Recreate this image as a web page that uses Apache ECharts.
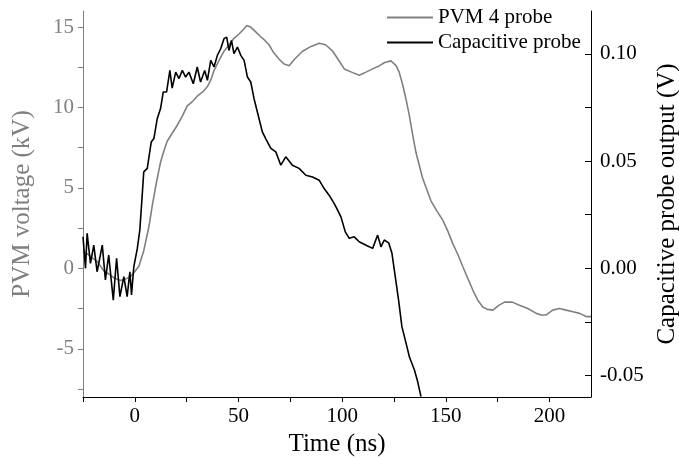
<!DOCTYPE html>
<html>
<head>
<meta charset="utf-8">
<script src="https://cdn.jsdelivr.net/npm/echarts@6/dist/echarts.min.js"></script>
<style>html,body{margin:0;padding:0;background:#fff}#c{width:679px;height:458px}</style>
</head>
<body>
<div id="c"></div>
<script>
// ---- Data ----
var pvmName = 'PVM 4 probe';
var capName = 'Capacitive probe';

// PVM 4 probe: time (ns) and voltage (kV), left axis
var pvmTime = [-25,-22,-18,-15,-12,-10,-7,-5,-2,0,2,4.3,6.8,8.4,10.5,12.4,14,15.6,18,20.5,
  23,25.3,28,30.1,33,35,36.6,38.2,40.5,43,45.5,47.8,50.5,52.7,54,55.9,58.3,60.7,62.5,64.7,
  67,69.6,72,74.4,77,80.9,85,88.9,92,95.4,98,101,104.5,108.2,111.5,114.7,118,120.5,123.5,126,
  127.5,129.2,130.8,132.4,134,135.6,138.8,142.8,145.5,148.5,151,153.3,156,158.2,160.5,163,165.5,167.8,170,172.7,
  175.5,178.3,182,185.5,189.5,193.6,196,198.4,201.5,204.8,208,211.3,214.5,217.7,220];
var pvmKV = [1.1,0.8,0.4,-0.15,-0.4,-0.6,-0.75,-0.7,-0.5,-0.2,0.15,1.1,2.6,3.9,5.4,6.6,7.3,7.9,8.4,8.9,
  9.5,10.1,10.4,10.7,11.0,11.3,11.7,12.3,12.9,13.5,13.9,14.3,14.6,14.9,15.1,15.0,14.7,14.4,14.2,13.9,
  13.4,13.0,12.7,12.6,13.0,13.5,13.8,14.0,13.9,13.5,13.0,12.4,12.2,12.0,12.2,12.4,12.6,12.8,12.9,12.6,
  12.2,11.4,10.5,9.5,8.3,7.2,5.6,4.2,3.6,3.0,2.3,1.55,0.8,0.1,-0.6,-1.35,-2.0,-2.4,-2.55,-2.6,
  -2.3,-2.1,-2.1,-2.3,-2.5,-2.8,-2.9,-2.9,-2.6,-2.5,-2.6,-2.7,-2.8,-3.0,-3.0];

// Capacitive probe: time (ns) and output (V), right axis
var capTime = [-25,-23.8,-23,-21.4,-19.8,-18.2,-15.7,-14.2,-12.6,-10.4,-8.8,-7.2,-5.3,-3.7,-2.4,-1.6,-0.5,1.2,2.4,3.2,
  4.3,6.0,7.9,9.2,10.8,12.4,13.7,15.3,16.9,18.0,19.7,21.3,22.9,24.5,26.1,28.2,30.1,31.7,33.7,35.0,
  36.6,38.2,39.8,41.4,43.0,44.3,45.4,46.6,47.8,49.5,51.1,52.7,54.3,55.9,57.5,59.1,61.5,63.1,65.6,68.0,
  70.4,72.8,76.0,79.2,82.5,85.7,88.9,91.3,93.7,96.1,97.0,99.4,101.5,103.4,105.8,108.2,111.5,114.7,117.1,118.7,
  120.3,122.4,124.0,125.6,127.2,128.8,130.8,132.4,134.8,136.4,138.0];
var capV = [0.0147,0.0,0.0163,0.0023,0.0108,-0.0016,0.0108,-0.0054,0.0062,-0.0148,0.0047,-0.0132,-0.0039,-0.0132,-0.0016,-0.0124,0.0007,0.0093,0.0178,0.029,
  0.045,0.0466,0.0589,0.0605,0.0698,0.0745,0.0822,0.0822,0.0923,0.084,0.0915,0.0885,0.0923,0.0892,0.0915,0.0861,0.0939,0.0869,0.0923,0.0877,
  0.097,0.0939,0.0993,0.1024,0.1071,0.1078,0.1016,0.1063,0.1001,0.1032,0.0993,0.097,0.0892,0.0869,0.0791,0.0729,0.0636,0.0605,0.0559,0.0543,
  0.0481,0.052,0.0481,0.0466,0.0434,0.0426,0.0411,0.0372,0.0341,0.0303,0.0287,0.024,0.017,0.014,0.0147,0.0124,0.0108,0.0093,0.0155,0.01,
  0.0132,0.0119,0.007,-0.0039,-0.0148,-0.0272,-0.0349,-0.0412,-0.0473,-0.0528,-0.0598];

// Axis ticks / labels
var xTicks = [-25,0,25,50,75,100,125,150,175,200];
var xLabels = [0,50,100,150,200];
var leftTicks = [-7.5,-5,-2.5,0,2.5,5,7.5,10,12.5,15];
var leftLabels = [-5,0,5,10,15];
var rightTicks = [-0.05,-0.025,0,0.025,0.05,0.075,0.1];
var rightLabels = [-0.05,0,0.05,0.1];

var xTitle = 'Time (ns)';
var leftTitle = 'PVM voltage (kV)';
var rightTitle = 'Capacitive probe output (V)';

// ---- Chart ----
var FONT = 'Liberation Serif';
var GRAY = '#808080';
function zip(a,b){var r=[];for(var i=0;i<a.length;i++)r.push([a[i],b[i]]);return r;}

var chart = echarts.init(document.getElementById('c'), null, {renderer:'canvas'});
chart.setOption({
  animation:false,
  backgroundColor:'#ffffff',
  textStyle:{fontFamily:FONT},
  grid:{left:83,right:88,top:11,bottom:61,containLabel:false,outerBoundsMode:'none'},
  legend:{
    orient:'vertical', left:382, top:0,
    itemWidth:46, itemHeight:2, itemGap:0, icon:'rect',
    textStyle:{fontFamily:FONT,fontSize:21,color:'#000',lineHeight:25,padding:[0,0,0,0]},
    data:[pvmName,capName]
  },
  xAxis:{
    type:'value', min:-25, max:220,
    name:xTitle, nameLocation:'middle', nameGap:29,
    nameTextStyle:{fontFamily:FONT,fontSize:25,color:'#000'},
    axisLine:{show:true,onZero:false,lineStyle:{color:'#000',width:1}},
    axisTick:{show:true,inside:false,length:5,customValues:xTicks,lineStyle:{color:'#000'}},
    axisLabel:{customValues:xLabels,fontFamily:FONT,fontSize:21,color:'#000',margin:9},
    splitLine:{show:false}
  },
  yAxis:[{
    type:'value', position:'left', min:-8, max:16,
    name:leftTitle, nameLocation:'middle', nameGap:48, nameRotate:90,
    nameTextStyle:{fontFamily:FONT,fontSize:25,color:GRAY},
    axisLine:{show:true,onZero:false,lineStyle:{color:GRAY,width:1}},
    axisTick:{show:true,inside:false,length:5,customValues:leftTicks,lineStyle:{color:GRAY}},
    axisLabel:{customValues:leftLabels,fontFamily:FONT,fontSize:21,color:GRAY,margin:9},
    splitLine:{show:false}
  },{
    type:'value', position:'right', min:-0.06, max:0.12,
    name:rightTitle, nameLocation:'middle', nameGap:63, nameRotate:90,
    nameTextStyle:{fontFamily:FONT,fontSize:25,color:'#000'},
    axisLine:{show:true,onZero:false,lineStyle:{color:'#000',width:1}},
    axisTick:{show:true,inside:true,length:6,customValues:rightTicks,lineStyle:{color:'#000'}},
    axisLabel:{customValues:rightLabels,fontFamily:FONT,fontSize:21,color:'#000',margin:9,
      formatter:function(v){return v.toFixed(2);}},
    splitLine:{show:false}
  }],
  series:[{
    name:pvmName, type:'line', yAxisIndex:0, showSymbol:false, symbol:'none',
    lineStyle:{color:GRAY,width:1.6}, itemStyle:{color:GRAY},
    data:zip(pvmTime,pvmKV)
  },{
    name:capName, type:'line', yAxisIndex:1, showSymbol:false, symbol:'none', clip:true,
    lineStyle:{color:'#000',width:1.6}, itemStyle:{color:'#000'},
    data:zip(capTime,capV)
  }]
});
</script>
</body>
</html>
